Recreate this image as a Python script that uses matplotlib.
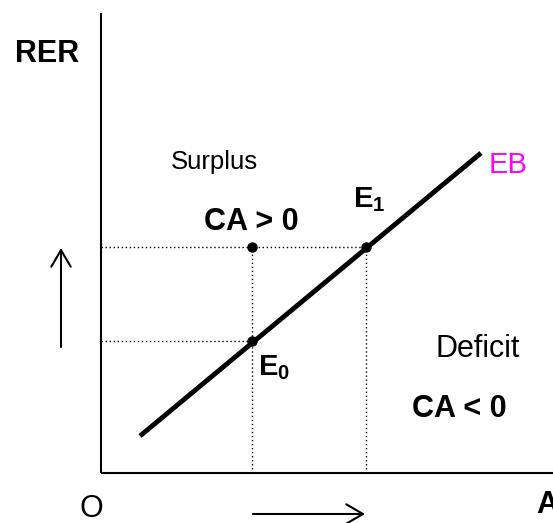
import matplotlib
matplotlib.use('Agg')
import matplotlib.pyplot as plt

plt.rcParams['font.family'] = ['Liberation Sans', 'DejaVu Sans']
plt.rcParams['mathtext.fontset'] = 'custom'
plt.rcParams['mathtext.rm'] = 'Liberation Sans'
plt.rcParams['mathtext.bf'] = 'Liberation Sans:bold'

# schematic coordinates, origin at the corner of the axes
eb_x = [39, 380]
eb_y = [37, 320]
e0 = (151, 132)
e1 = (265, 226)
ca_pt = (151, 226)

fig = plt.figure(figsize=(5.53, 5.23), dpi=100)
ax = fig.add_axes([0, 0, 1, 1])
ax.set_xlim(-101, 452)
ax.set_ylim(-50, 473)
ax.axis('off')

# axes
ax.plot([0, 0], [0, 460], color='black', lw=1.5, solid_capstyle='butt')
ax.plot([0, 460], [0, 0], color='black', lw=1.5, solid_capstyle='butt')

# dotted guides
dot = dict(color='black', lw=1.0, linestyle=(0, (1, 1.9)))
ax.plot([0, e1[0]], [e1[1], e1[1]], **dot)
ax.plot([0, e0[0]], [e0[1], e0[1]], **dot)
ax.plot([e0[0], e0[0]], [0, ca_pt[1]], **dot)
ax.plot([e1[0], e1[0]], [0, e1[1]], **dot)

# EB line
ax.plot(eb_x, eb_y, color='black', lw=3.5, solid_capstyle='butt')

# points
for p in (e0, e1, ca_pt):
    ax.plot(p[0], p[1], 'o', color='black', markersize=6.5)

# arrows
arr = dict(arrowstyle='->,head_length=0.6,head_width=0.35', lw=1.5,
           color='black', mutation_scale=20, shrinkA=0, shrinkB=0)
ax.annotate('', xy=(-40, 225), xytext=(-40, 126), arrowprops=arr)
ax.annotate('', xy=(264, -41), xytext=(152, -41), arrowprops=arr)

# labels
ax.text(-86, 411, 'RER', fontsize=22, fontweight='bold')
ax.text(70, 304, 'Surplus', fontsize=18.5)
ax.text(388, 300, 'EB', fontsize=21, color='#ff00ff')
ax.text(103, 243, 'CA > 0', fontsize=22, fontweight='bold')
ax.text(252, 266, r'$\mathbf{E_1}$', fontsize=21)
ax.text(157, 98, r'$\mathbf{E_0}$', fontsize=21)
ax.text(334, 116, 'Deficit', fontsize=22)
ax.text(311, 56, 'CA < 0', fontsize=22, fontweight='bold')
ax.text(-21, -44, 'O', fontsize=22)
ax.text(435, -40, 'A', fontsize=22, fontweight='bold')

fig.savefig('out.png', dpi=100)
